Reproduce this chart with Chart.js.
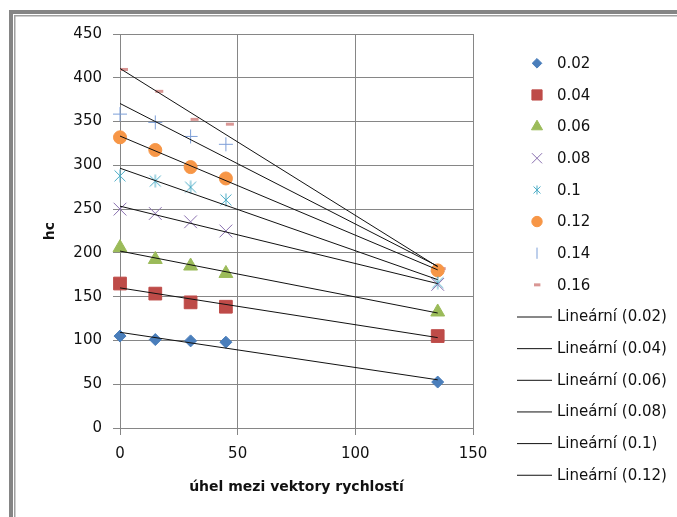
<!DOCTYPE html>
<html>
<head>
<meta charset="utf-8">
<script src="https://cdn.jsdelivr.net/npm/chart.js@4/dist/chart.umd.min.js"></script>
<style>
  html, body { margin: 0; padding: 0; background: #fff; }
  canvas { display: block; }
</style>
</head>
<body>
<canvas id="chart" width="677" height="517"></canvas>
<script>
// úhel mezi vektory rychlostí (x) a hc pro jednotlivé řady
const angles = [0, 15, 30, 45, 135];
const seriesLabels = ['0.02', '0.04', '0.06', '0.08', '0.1', '0.12', '0.14', '0.16'];
const hc002 = [105, 101, 99.5, 98, 52.5];
const hc004 = [165, 153.5, 143.5, 138.5, 105];
const hc006 = [206, 192.5, 185, 176.5, 132.5];
const hc008 = [250, 245, 235.5, 225, 164];
const hc010 = [288, 282, 275, 260.5, 166];
const hc012 = [332, 317.5, 298, 285, 180];
const hc014 = [358.5, 349, 333, 324, 179];
const hc016 = [409.5, 384.5, 352.5, 347, 182];
const hcSeries = [hc002, hc004, hc006, hc008, hc010, hc012, hc014, hc016];

// trendy jen pro prvních šest řad se vejdou do legendy, čáry kreslíme pro všechny
const trendLabelCount = 6;

const xRange = [0, 150], xStep = 50;
const yRange = [0, 450], yStep = 50;

const FONT = '"DejaVu Sans", sans-serif';
const GRID = '#868686';

function asterisk(size, color){
  const c = document.createElement('canvas');
  c.width = size; c.height = size;
  const g = c.getContext('2d');
  g.strokeStyle = color; g.lineWidth = 1;
  const m = size / 2, d = size / 2 - 1.5;
  g.beginPath();
  g.moveTo(m - d, m - d); g.lineTo(m + d, m + d);
  g.moveTo(m + d, m - d); g.lineTo(m - d, m + d);
  g.moveTo(m, 0.5); g.lineTo(m, size - 0.5);
  g.stroke();
  return c;
}

const markerStyles = [
  { pointStyle: 'rectRot',  radius: 6,   color: '#4a7ebb', width: 1 },
  { pointStyle: 'rect',     radius: 9,   color: '#be4b48', width: 1 },
  { pointStyle: 'triangle', radius: 8,   color: '#9bbb59', width: 1 },
  { pointStyle: 'crossRot', radius: 9,   color: '#8a70b0', width: 1 },
  { pointStyle: asterisk(14, '#4bacc6'), legendStyle: asterisk(10, '#4bacc6'), radius: 7, color: '#4bacc6', width: 1 },
  { pointStyle: 'circle',   radius: 6.5, color: '#f79646', width: 1 },
  { pointStyle: 'cross',    radius: 7,   color: '#7d9fd8', width: 1, legendStyle: 'line', legendRotation: 90 },
  { pointStyle: 'dash',     radius: 8,   color: '#d99694', width: 3 },
];

function linearFit(xs, ys){
  const n = xs.length;
  const mx = xs.reduce((a, b) => a + b, 0) / n;
  const my = ys.reduce((a, b) => a + b, 0) / n;
  let sxy = 0, sxx = 0;
  xs.forEach((x, i) => { sxy += (x - mx) * (ys[i] - my); sxx += (x - mx) * (x - mx); });
  const slope = sxy / sxx;
  return { slope, intercept: my - slope * mx };
}

const scatterSets = hcSeries.map((ys, i) => {
  const m = markerStyles[i];
  return {
    label: seriesLabels[i],
    data: angles.map((x, j) => ({ x, y: ys[j] })),
    pointStyle: m.pointStyle,
    pointRadius: m.radius,
    backgroundColor: m.color,
    borderColor: m.color,
    pointBorderWidth: m.width,
    showLine: false,
    clip: false,
    order: 1,
  };
});

const trendSets = hcSeries.map((ys, i) => {
  const fit = linearFit(angles, ys);
  const x0 = angles[0], x1 = angles[angles.length - 1];
  return {
    label: 'Lineární (' + seriesLabels[i] + ')',
    data: [{ x: x0, y: fit.intercept + fit.slope * x0 }, { x: x1, y: fit.intercept + fit.slope * x1 }],
    showLine: true,
    pointRadius: 0,
    borderColor: '#111',
    borderWidth: 1,
    order: 0,
  };
});

// rámeček kolem celého grafu
const framePlugin = {
  id: 'frame',
  beforeDraw(chart){
    const ctx = chart.ctx;
    ctx.save();
    ctx.fillStyle = '#fff';
    ctx.fillRect(0, 0, chart.width, chart.height);
    ctx.fillStyle = '#858585';
    ctx.fillRect(9, 10, 4, chart.height - 10);
    ctx.fillRect(9, 10, chart.width - 9, 4);
    ctx.fillStyle = '#a0a0a0';
    ctx.fillRect(14, 15, 1.5, chart.height - 15);
    ctx.fillRect(14, 15, chart.width - 14, 1.5);
    ctx.restore();
  }
};

// legenda vpravo, jeden sloupec, co se nevejde, je oříznuto
const sideLegend = {
  id: 'sideLegend',
  afterDraw(chart){
    const ctx = chart.ctx;
    const rowH = 31.65;
    let y = 63.3;
    ctx.save();
    ctx.font = '15px ' + FONT;
    ctx.textBaseline = 'middle';
    scatterSets.forEach((ds, i) => {
      const m = markerStyles[i];
      ctx.fillStyle = m.color;
      ctx.strokeStyle = m.color;
      ctx.lineWidth = m.width;
      Chart.helpers.drawPoint(ctx, {
        pointStyle: m.legendStyle || m.pointStyle,
        radius: m.radius * 0.8,
        rotation: m.legendRotation || 0,
        borderWidth: m.width,
      }, m.pointStyle === 'dash' ? 534 : 537, y);
      ctx.fillStyle = '#111';
      ctx.fillText(ds.label, 557, y + 1);
      y += rowH;
    });
    trendSets.slice(0, trendLabelCount).forEach(ds => {
      ctx.strokeStyle = '#111';
      ctx.lineWidth = 1;
      ctx.beginPath();
      ctx.moveTo(517, y + 0.5);
      ctx.lineTo(552, y + 0.5);
      ctx.stroke();
      ctx.fillStyle = '#111';
      ctx.fillText(ds.label, 557, y + 1);
      y += rowH;
    });
    ctx.restore();
  }
};

new Chart(document.getElementById('chart'), {
  type: 'scatter',
  data: { datasets: [...scatterSets, ...trendSets] },
  plugins: [framePlugin, sideLegend],
  options: {
    responsive: false,
    animation: false,
    events: [],
    layout: { padding: { left: 38, right: 204, top: 34, bottom: 17 } },
    plugins: { legend: { display: false }, tooltip: { enabled: false } },
    scales: {
      x: {
        type: 'linear',
        min: xRange[0], max: xRange[1],
        ticks: { stepSize: xStep, padding: 10, color: '#111', font: { family: FONT, size: 15 } },
        grid: { color: GRID, tickLength: 7 },
        border: { color: GRID },
        title: {
          display: true, text: 'úhel mezi vektory rychlostí', color: '#111',
          font: { family: FONT, size: 14, weight: 'bold' }, padding: { top: 4, bottom: 4 },
        },
        afterFit(s){ s.height = 72; },
      },
      y: {
        type: 'linear',
        min: yRange[0], max: yRange[1],
        ticks: { stepSize: yStep, padding: 11, color: '#111', font: { family: FONT, size: 15 } },
        grid: { color: GRID, tickLength: 7 },
        border: { color: GRID },
        title: {
          display: true, text: 'hc', color: '#111',
          font: { family: FONT, size: 14, weight: 'bold' }, padding: { top: 4, bottom: 4 },
        },
        afterFit(s){ s.width = 82; },
      },
    },
  },
});
</script>
</body>
</html>
